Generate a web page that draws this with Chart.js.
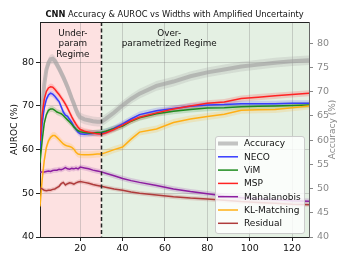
<!DOCTYPE html>
<html>
<head>
<meta charset="utf-8">
<script src="https://cdn.jsdelivr.net/npm/chart.js@4.4.1/dist/chart.umd.min.js"></script>
<style>
  body { margin: 0; background: #fff; }
  #wrap { width: 349px; height: 262px; }
</style>
</head>
<body>
<div id="wrap"><canvas id="chart"></canvas></div>
<script>
// widths swept (x axis)
const widths = [1, 2, 3, 4, 5, 6, 7, 8, 9, 10, 11, 12, 13, 14, 15, 16, 17, 18, 19, 20,
  22, 24, 26, 28, 30, 32, 36, 40, 44, 48, 56, 64, 72, 80, 88, 96, 104, 112, 120, 128];

// test accuracy (right axis, %)
const accuracy = [59, 66, 71.5, 74.5, 76, 76.7, 76.8, 76.4, 75.6, 74.8, 73.9, 73, 72, 71, 69.8, 68.6, 67.5, 66.3, 65.3, 64.7,
  64.3, 64.1, 63.9, 63.8, 63.8, 64.4, 65.7, 67.2, 68.5, 69.6, 71.2, 72.1, 73.2, 74.0, 74.6, 75.2, 75.6, 76.0, 76.3, 76.5];

// AUROC per method (left axis, %)
const neco = [60, 66, 69.5, 71.5, 72.5, 72.9, 72.7, 72.2, 71.6, 71.0, 69.8, 68.6, 67.9, 67.6, 66.9, 66.2, 65.3, 64.6, 64.0, 63.6,
  63.5, 63.6, 63.7, 63.8, 63.8, 64.1, 64.9, 65.9, 67.0, 68.0, 68.9, 69.4, 69.9, 70.2, 70.3, 70.5, 70.5, 70.5, 70.6, 70.6];
const vim = [57, 62, 66, 68, 69, 69.3, 69.3, 69.0, 68.6, 68.4, 68.2, 67.8, 67.3, 66.8, 66.3, 65.8, 65.2, 64.7, 64.3, 64.1,
  63.9, 63.8, 63.8, 63.9, 64.0, 64.2, 64.8, 65.4, 66.5, 67.3, 68.2, 68.8, 69.2, 69.5, 69.6, 69.8, 69.9, 70.0, 70.1, 70.2];
const msp = [62, 68, 71.5, 73.3, 74.1, 74.4, 74.3, 73.8, 73.2, 72.6, 71.9, 71.2, 70.4, 69.5, 68.5, 67.5, 66.6, 65.8, 65.1, 64.6,
  64.2, 64.0, 63.8, 63.6, 63.5, 63.8, 64.6, 65.6, 66.6, 67.4, 68.4, 69.3, 70.0, 70.6, 70.9, 71.7, 72.0, 72.3, 72.6, 72.9];
const mahalanobis = [54.8, 54.9, 54.9, 55.0, 55.1, 55.0, 55.2, 55.3, 55.3, 55.5, 55.4, 55.6, 55.9, 55.6, 55.5, 55.7, 55.6, 55.8, 55.6, 56.0,
  55.8, 55.6, 55.3, 55.1, 54.9, 54.6, 54.0, 53.4, 52.9, 52.5, 51.8, 51.0, 50.4, 49.9, 49.4, 49.0, 48.7, 48.5, 48.3, 48.2];
const klMatching = [47, 53, 57.5, 60.5, 62, 62.8, 63.2, 63.2, 62.8, 62.3, 61.8, 61.3, 61.0, 60.8, 60.7, 60.5, 60.1, 59.4, 59.0, 58.9,
  58.8, 58.8, 58.9, 59.0, 59.0, 59.3, 60.0, 60.6, 62.4, 64.0, 64.7, 66.2, 67.0, 67.6, 68.1, 69.0, 69.1, 69.2, 69.6, 70.0];
const residual = [51.2, 51.0, 50.7, 50.6, 50.7, 50.7, 50.9, 51.0, 51.3, 51.6, 52.2, 52.5, 51.9, 52.2, 52.4, 52.3, 52.1, 52.4, 52.6, 52.7,
  52.5, 52.3, 52.0, 51.8, 51.6, 51.4, 51.0, 50.7, 50.3, 50.0, 49.6, 49.2, 48.9, 48.7, 48.4, 48.1, 47.9, 47.7, 47.5, 47.4];

// half-width of the shaded spread
const accuracySpread = 1.0;
const methodSpread = [0.7, 0.7, 0.7, 0.6, 0.8, 0.5];

const xTicks = [20, 40, 60, 80, 100, 120];
const aurocTicks = [40, 50, 60, 70, 80];
const accTicks = [40, 45, 50, 55, 60, 65, 70, 75, 80];
const regimeSplit = 30;

const methodNames = ["NECO", "ViM", "MSP", "Mahalanobis", "KL-Matching", "Residual"];
const methodValues = [neco, vim, msp, mahalanobis, klMatching, residual];
const methodColors = ["rgb(55,60,255)", "rgb(30,140,30)", "rgb(255,35,35)", "rgb(140,30,160)", "rgb(255,175,20)", "rgb(175,60,60)"];
const accColor = "rgba(160,160,160,0.62)";

const FONT = "DejaVu Sans";
const pts = (vals, off) => widths.map((w, i) => ({ x: w, y: vals[i] + off }));
const alpha = (rgb, a) => rgb.replace("rgb(", "rgba(").replace(")", "," + a + ")");

const datasets = [];
// bands first
datasets.push({ data: pts(accuracy, accuracySpread), yAxisID: "y2", fill: "+1", backgroundColor: "rgba(165,165,165,0.25)", borderWidth: 0, order: 300 });
datasets.push({ data: pts(accuracy, -accuracySpread), yAxisID: "y2", fill: false, borderWidth: 0, order: 300 });
methodValues.forEach((vals, i) => {
  datasets.push({ data: pts(vals, methodSpread[i]), yAxisID: "y", fill: "+1", backgroundColor: alpha(methodColors[i], 0.18), borderWidth: 0, order: 200 - i });
  datasets.push({ data: pts(vals, -methodSpread[i]), yAxisID: "y", fill: false, borderWidth: 0, order: 200 - i });
});
// lines
datasets.push({ label: "Accuracy", data: pts(accuracy, 0), yAxisID: "y2", borderColor: accColor, borderWidth: 4, fill: false, order: 100 });
methodValues.forEach((vals, i) => {
  datasets.push({ label: methodNames[i], data: pts(vals, 0), yAxisID: "y", borderColor: methodColors[i], borderWidth: 1.5, fill: false, order: 50 - i });
});

const decor = {
  id: "decor",
  beforeDraw(chart) {
    const { ctx, chartArea: a, scales: { x } } = chart;
    const split = x.getPixelForValue(regimeSplit);
    ctx.save();
    ctx.fillStyle = "rgb(253,225,225)";
    ctx.fillRect(a.left, a.top, split - a.left, a.bottom - a.top);
    ctx.fillStyle = "rgb(228,240,227)";
    ctx.fillRect(split, a.top, a.right - split, a.bottom - a.top);
    ctx.restore();
  },
  afterDatasetsDraw(chart) {
    const { ctx, chartArea: a, scales: { x } } = chart;
    const split = Math.round(x.getPixelForValue(regimeSplit)) + 0.5;
    ctx.save();
    ctx.strokeStyle = "#222";
    ctx.lineWidth = 1.5;
    ctx.setLineDash([4, 2.5]);
    ctx.beginPath();
    ctx.moveTo(split, a.top);
    ctx.lineTo(split, a.bottom);
    ctx.stroke();
    ctx.setLineDash([]);

    ctx.fillStyle = "#111";
    ctx.font = "8.8px '" + FONT + "'";
    ctx.textAlign = "center";
    ctx.textBaseline = "middle";
    const ux = x.getPixelForValue(16.5);
    ["Under-", "param", "Regime"].forEach((t, i) => ctx.fillText(t, ux, a.top + 11.5 + i * 10.5));
    const ox = x.getPixelForValue(62);
    ["Over-", "parametrized Regime"].forEach((t, i) => ctx.fillText(t, ox, a.top + 11.5 + i * 10.5));
    ctx.restore();
  },
  afterDraw(chart) {
    const { ctx, chartArea: a } = chart;
    ctx.save();
    // top spine
    ctx.strokeStyle = "#222";
    ctx.lineWidth = 1;
    ctx.beginPath();
    ctx.moveTo(a.left, a.top + 0.5);
    ctx.lineTo(a.right, a.top + 0.5);
    ctx.stroke();

    // title with bold prefix
    ctx.textBaseline = "middle";
    ctx.fillStyle = "#111";
    const bold = "bold 8.3px '" + FONT + "'";
    const norm = "8.3px '" + FONT + "'";
    const rest = " Accuracy & AUROC vs Widths with Amplified Uncertainty";
    ctx.font = bold;
    const w1 = ctx.measureText("CNN").width;
    ctx.font = norm;
    const w2 = ctx.measureText(rest).width;
    const tx = (a.left + a.right) / 2 - (w1 + w2) / 2;
    ctx.textAlign = "left";
    ctx.font = bold;
    ctx.fillText("CNN", tx, 15);
    ctx.font = norm;
    ctx.fillText(rest, tx + w1, 15);

    // axis titles
    const cy = (a.top + a.bottom) / 2;
    ctx.font = "9px '" + FONT + "'";
    ctx.textAlign = "center";
    ctx.save();
    ctx.translate(15, cy);
    ctx.rotate(-Math.PI / 2);
    ctx.fillStyle = "#111";
    ctx.fillText("AUROC (%)", 0, 0);
    ctx.restore();
    ctx.save();
    ctx.translate(333, cy);
    ctx.rotate(-Math.PI / 2);
    ctx.fillStyle = "#888";
    ctx.fillText("Accuracy (%)", 0, 0);
    ctx.restore();

    // legend box inside the plot, lower right
    const lines = chart.data.datasets.filter((d) => d.label);
    const rowH = 13.3;
    const bx = a.right - 94, by = a.bottom - 101, bw = 89, bh = 97;
    ctx.fillStyle = "rgba(255,255,255,0.82)";
    ctx.strokeStyle = "rgba(200,200,200,0.9)";
    ctx.lineWidth = 1;
    ctx.beginPath();
    ctx.roundRect(bx + 0.5, by + 0.5, bw, bh, 2.5);
    ctx.fill();
    ctx.stroke();
    ctx.font = "9px '" + FONT + "'";
    ctx.textAlign = "left";
    lines.forEach((d, i) => {
      const yy = by + 7.5 + i * rowH;
      ctx.strokeStyle = d.borderColor;
      ctx.lineWidth = d.borderWidth;
      ctx.beginPath();
      ctx.moveTo(bx + 3, yy);
      ctx.lineTo(bx + 23, yy);
      ctx.stroke();
      ctx.fillStyle = "#111";
      ctx.fillText(d.label, bx + 29, yy + 0.5);
    });
    ctx.restore();
  }
};

const fixedTicks = (list) => (scale) => { scale.ticks = list.map((v) => ({ value: v })); };

new Chart("chart", {
  type: "line",
  data: { datasets },
  plugins: [decor],
  options: {
    responsive: true,
    maintainAspectRatio: false,
    animation: false,
    elements: { point: { radius: 0 }, line: { tension: 0 } },
    layout: { padding: { top: 22, left: 0, right: 0, bottom: 0 } },
    plugins: { legend: { display: false }, tooltip: { enabled: false }, title: { display: false } },
    scales: {
      x: {
        type: "linear",
        min: 1,
        max: 128,
        afterBuildTicks: fixedTicks(xTicks),
        afterFit: (s) => { s.height = 25; },
        grid: { color: "rgba(120,120,120,0.3)", tickColor: "#222", tickLength: 4 },
        border: { display: true, color: "#222", width: 1 },
        ticks: { color: "#111", padding: 2, maxRotation: 0, font: { family: FONT, size: 9.5 } }
      },
      y: {
        position: "left",
        min: 40,
        max: 89.2,
        afterBuildTicks: fixedTicks(aurocTicks),
        afterFit: (s) => { s.width = 40; },
        grid: { color: "rgba(120,120,120,0.3)", tickColor: "#222", tickLength: 4 },
        border: { display: true, color: "#222", width: 1 },
        ticks: { color: "#111", padding: 2, font: { family: FONT, size: 9.5 } }
      },
      y2: {
        position: "right",
        min: 40,
        max: 84.4,
        afterBuildTicks: fixedTicks(accTicks),
        afterFit: (s) => { s.width = 40; },
        grid: { drawOnChartArea: false, tickColor: "#888", tickLength: 4 },
        border: { display: true, color: "#666", width: 1 },
        ticks: { color: "#888", padding: 4, font: { family: FONT, size: 9.5 } }
      }
    }
  }
});
</script>
</body>
</html>
